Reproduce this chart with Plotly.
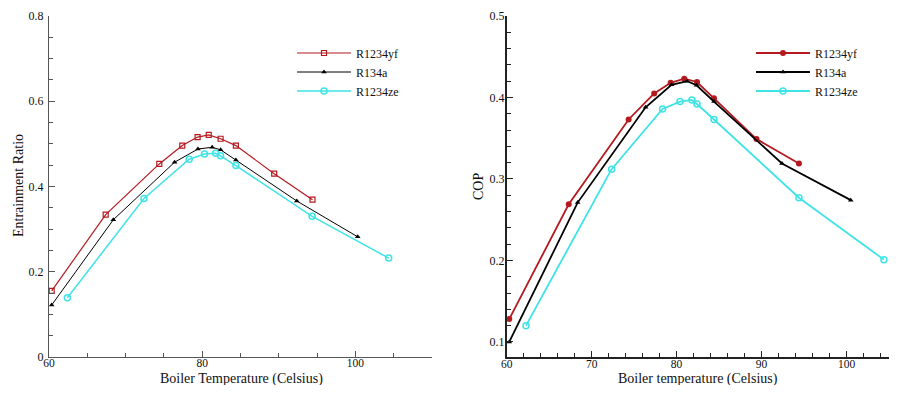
import plotly.graph_objects as go

# ---------------- data: Entrainment ratio (left) ----------------
er_yf_T = [60.35, 67.4, 74.4, 77.4, 79.4, 80.85, 82.4, 84.4, 89.4, 94.4]
er_yf_V = [0.155, 0.334, 0.453, 0.496, 0.516, 0.521, 0.512, 0.496, 0.430, 0.369]

er_134_T = [60.35, 68.4, 76.4, 79.45, 81.3, 82.4, 84.4, 92.35, 100.3]
er_134_V = [0.122, 0.322, 0.457, 0.488, 0.492, 0.486, 0.462, 0.366, 0.282]

er_ze_T = [62.4, 72.4, 78.3, 80.3, 81.75, 82.4, 84.4, 94.35, 104.35]
er_ze_V = [0.139, 0.372, 0.464, 0.476, 0.478, 0.472, 0.449, 0.330, 0.232]

# ---------------- data: COP (right) ----------------
cop_yf_T = [60.3, 67.3, 74.35, 77.36, 79.3, 80.9, 82.4, 84.4, 89.4, 94.4]
cop_yf_V = [0.128, 0.269, 0.373, 0.405, 0.418, 0.423, 0.419, 0.399, 0.349, 0.319]

cop_134_T = [60.3, 68.35, 76.35, 79.4, 81.25, 82.35, 84.4, 92.4, 100.5]
cop_134_V = [0.100, 0.271, 0.388, 0.4155, 0.420, 0.415, 0.395, 0.319, 0.274]

cop_ze_T = [62.27, 72.35, 78.35, 80.4, 81.8, 82.4, 84.4, 94.4, 104.4]
cop_ze_V = [0.120, 0.312, 0.386, 0.395, 0.397, 0.392, 0.373, 0.277, 0.201]

series_names = ["R1234yf", "R134a", "R1234ze"]
RED = "#b4191e"
BLACK = "#000000"
CYAN = "#3fe3e6"
FONT = "Liberation Serif, Times New Roman, serif"

fig = go.Figure()

# left traces
fig.add_trace(go.Scatter(x=er_yf_T, y=er_yf_V, name=series_names[0], mode="lines+markers",
                         line=dict(color=RED, width=1.2),
                         marker=dict(symbol="square-open", size=5, color=RED, line=dict(width=1.2)),
                         xaxis="x", yaxis="y", legend="legend"))
fig.add_trace(go.Scatter(x=er_134_T, y=er_134_V, name=series_names[1], mode="lines+markers",
                         line=dict(color=BLACK, width=1),
                         marker=dict(symbol="triangle-up", size=5, color=BLACK),
                         xaxis="x", yaxis="y", legend="legend"))
fig.add_trace(go.Scatter(x=er_ze_T, y=er_ze_V, name=series_names[2], mode="lines+markers",
                         line=dict(color=CYAN, width=1.5),
                         marker=dict(symbol="circle-open", size=6, color=CYAN, line=dict(width=1.5)),
                         xaxis="x", yaxis="y", legend="legend"))

# right traces
fig.add_trace(go.Scatter(x=cop_yf_T, y=cop_yf_V, name=series_names[0], mode="lines+markers",
                         line=dict(color=RED, width=1.8),
                         marker=dict(symbol="circle", size=6, color=RED),
                         xaxis="x2", yaxis="y2", legend="legend2"))
fig.add_trace(go.Scatter(x=cop_134_T, y=cop_134_V, name=series_names[1], mode="lines+markers",
                         line=dict(color=BLACK, width=1.8),
                         marker=dict(symbol="triangle-up", size=5, color=BLACK),
                         xaxis="x2", yaxis="y2", legend="legend2"))
fig.add_trace(go.Scatter(x=cop_ze_T, y=cop_ze_V, name=series_names[2], mode="lines+markers",
                         line=dict(color=CYAN, width=1.8),
                         marker=dict(symbol="circle-open", size=6, color=CYAN, line=dict(width=1.5)),
                         xaxis="x2", yaxis="y2", legend="legend2"))

# page body has an 8px margin: work in window pixels and convert
OFF = 8
W, H = 903 - 2 * OFF, 393 - 2 * OFF
L, T = 49 - OFF, 16 - OFF
R = W - (889 - OFF)
B = H - (357 - OFF)
PW, PH = W - L - R, H - T - B

def px(xw):
    return (xw - OFF - L) / PW

def py(yw):
    return 1 - (yw - OFF - T) / PH

def ax_common(width, color, fsize):
    return dict(showline=True, linecolor=color, linewidth=width, showgrid=False, zeroline=False,
                ticks="inside", ticklen=6, tickwidth=1, tickcolor=color, automargin=False,
                tickfont=dict(family=FONT, size=fsize, color="#111"), mirror=False)

xa = ax_common(1.2, "#555", 11.5)
xa.update(domain=[px(49), px(432)], range=[60, 110], dtick=20, tick0=60, anchor="y",
          ticklabelstandoff=-5,
          minor=dict(ticks="inside", ticklen=4, dtick=5, tick0=60, tickcolor="#555"))
ya = ax_common(1.2, "#555", 12)
ya.update(domain=[0, 1], range=[0, 0.8], dtick=0.2, tick0=0, anchor="x",
          ticklabelstandoff=2,
          minor=dict(ticks="inside", ticklen=4, dtick=0.05, tick0=0, tickcolor="#555"))
xa2 = ax_common(1.8, "#222", 11.5)
xa2.update(domain=[px(506.7), 1], range=[60, 105], dtick=10, tick0=60, anchor="y2",
           ticklabelstandoff=-5,
           minor=dict(ticks="inside", ticklen=4, dtick=2, tick0=60, tickcolor="#222"))
ya2 = ax_common(1.8, "#222", 12)
ya2.update(domain=[0, 1], range=[0.0815, 0.5], dtick=0.1, tick0=0, anchor="x2",
           ticklabelstandoff=-2,
           minor=dict(ticks="inside", ticklen=4, dtick=0.02, tick0=0, tickcolor="#222"))

legend_common = dict(font=dict(family=FONT, size=12, color="#111"), bgcolor="rgba(0,0,0,0)",
                     xanchor="left", yanchor="middle", tracegroupgap=0, itemwidth=54)

title_font = dict(family=FONT, size=14, color="#111")

fig.update_layout(
    width=W, height=H, margin=dict(l=L, r=R, t=T, b=B, autoexpand=False),
    paper_bgcolor="white", plot_bgcolor="white",
    xaxis=xa, yaxis=ya, xaxis2=xa2, yaxis2=ya2,
    legend=dict(x=px(292), y=py(72), **legend_common),
    legend2=dict(x=px(751), y=py(72), **legend_common),
    annotations=[
        dict(text="Entrainment Ratio", x=px(18), y=py(186), xref="paper", yref="paper",
             xanchor="center", yanchor="middle",
             textangle=-90, showarrow=False, font=title_font),
        dict(text="Boiler Temperature (Celsius)", x=px(241), y=py(378.5), xref="paper", yref="paper",
             xanchor="center", yanchor="middle",
             showarrow=False, font=title_font),
        dict(text="COP", x=px(478), y=py(186), xref="paper", yref="paper",
             xanchor="center", yanchor="middle",
             textangle=-90, showarrow=False, font=title_font),
        dict(text="Boiler temperature (Celsius)", x=px(698), y=py(378.5), xref="paper", yref="paper",
             xanchor="center", yanchor="middle",
             showarrow=False, font=title_font),
    ],
)

fig.write_html("out.html")
